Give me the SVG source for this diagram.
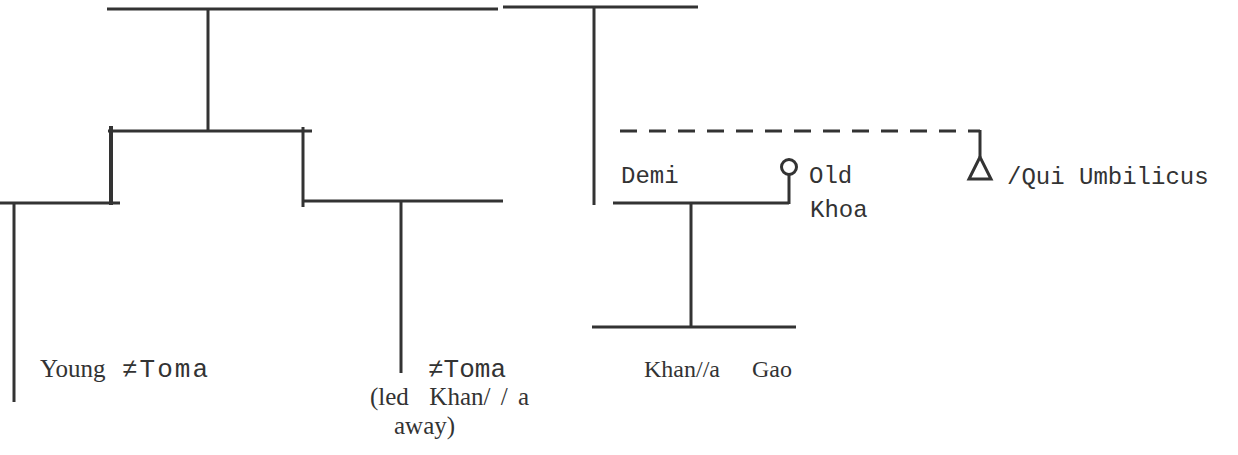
<svg xmlns="http://www.w3.org/2000/svg" width="1238" height="455" viewBox="0 0 1238 455">
<style>
.l{stroke:#333;stroke-width:3;fill:none}
.t{stroke:#333;stroke-width:4;fill:none}
.d{stroke:#333;stroke-width:3;fill:none;stroke-dasharray:17 12}
.s{font-family:"Liberation Serif",serif;font-size:24px;fill:#333}
.s2{font-family:"Liberation Serif",serif;font-size:25px;fill:#333}
.m{font-family:"Liberation Mono",monospace;font-size:24px;fill:#333}
.tm{font-family:"Liberation Mono",monospace;font-size:26px;fill:#333}
</style>
<rect width="1238" height="455" fill="#fff"/>
<g id="connectors">
<line class="l" x1="107" y1="9" x2="498" y2="9"/>
<line class="l" x1="208" y1="9" x2="208" y2="131"/>
<line class="l" x1="503" y1="7" x2="698" y2="7"/>
<line class="l" x1="594" y1="7" x2="594" y2="205"/>
<line class="l" x1="108" y1="131" x2="312" y2="131"/>
<line class="t" x1="111" y1="126" x2="111" y2="205"/>
<line class="l" x1="303" y1="127" x2="303" y2="207"/>
<line class="l" x1="0" y1="203" x2="120" y2="203"/>
<line class="l" x1="14" y1="203" x2="14" y2="402"/>
<line class="l" x1="303" y1="201" x2="503" y2="201"/>
<line class="l" x1="401" y1="201" x2="401" y2="373"/>
<line class="d" x1="620" y1="131" x2="980" y2="131"/>
<line class="l" x1="980" y1="130" x2="980" y2="157"/>
<line class="l" x1="613" y1="203" x2="789" y2="203"/>
<line class="l" x1="789" y1="204" x2="789" y2="174"/>
<line class="l" x1="691" y1="203" x2="691" y2="328"/>
<line class="l" x1="592" y1="327" x2="796" y2="327"/>
</g>
<g id="young-toma"><text class="s2" x="40" y="377" font-size="26">Young</text><text class="tm" x="122" y="377" letter-spacing="2">≠Toma</text></g>
<g id="toma"><text class="tm" x="428" y="377">≠Toma</text><text class="s2" x="370" y="405" xml:space="preserve" word-spacing="4">(led  Khan/ / a</text><text class="s2" x="394" y="434">away)</text></g>
<g id="demi"><text class="m" x="621" y="183">Demi</text></g>
<g id="old-khoa"><circle cx="789" cy="167" r="7.5" class="l" stroke-width="2.5"/><text class="m" x="809" y="183">Old</text><text class="m" x="810" y="217">Khoa</text></g>
<g id="qui"><path d="M980 157 L969 179 L991 179 Z" class="l" stroke-width="2.5"/><text class="m" x="1007" y="184" font-size="25">/Qui Umbilicus</text></g>
<g id="khana"><text class="s" x="644" y="377">Khan//a</text></g>
<g id="gao"><text class="s" x="752" y="377">Gao</text></g>
</svg>
